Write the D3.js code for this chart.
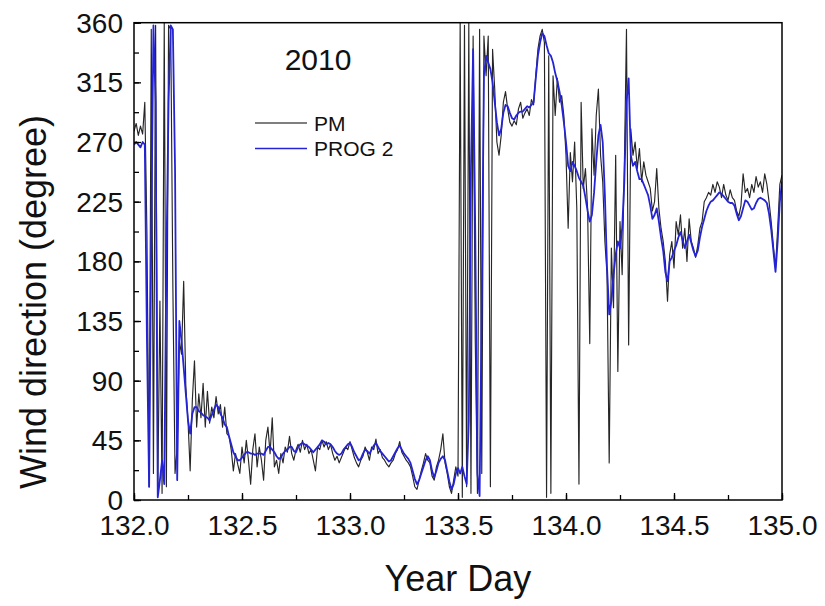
<!DOCTYPE html>
<html><head><meta charset="utf-8">
<script src="https://cdn.jsdelivr.net/npm/d3@7"></script>
<style>body{margin:0;background:#fff}svg{display:block}text{font-family:"Liberation Sans",Arial,sans-serif;fill:#111}</style>
</head><body><svg id="c" width="825" height="606"></svg>
<script>
// Time axis: year day from 132.00 to 135.00 in steps of 0.01
const tStart = 132.0, tStep = 0.01;
const xTicks = [132.0, 132.5, 133.0, 133.5, 134.0, 134.5, 135.0];
const yTicks = [0, 45, 90, 135, 180, 225, 270, 315, 360];
const titleText = "2010";
const seriesNames = ["PM", "PROG 2"];

const pm = [
278,284,275,282,276,300,200,10,355,20, 358,5,150,5,360,10,358,355,160,20,
40,120,110,165,85,60,22,75,105,55, 80,62,88,55,82,58,70,62,78,65,
72,55,70,50,48,38,22,35,27,20, 40,28,45,30,12,38,50,25,40,30,
15,45,55,35,62,25,30,20,35,28, 40,36,48,35,30,38,42,36,45,38,
42,35,38,30,22,40,38,45,40,44, 38,42,35,30,33,28,32,36,40,38,
44,38,32,28,25,30,33,40,36,30, 40,38,46,35,38,32,30,27,25,28,
30,35,38,44,36,33,30,28,25,18, 10,8,15,22,28,35,30,28,18,15,
25,30,38,50,28,20,10,5,15,25, 18,360,2,358,10,360,5,350,120,5,
355,20,350,320,350,10,340,310,270,260, 275,300,308,295,285,282,286,283,295,300,
288,292,295,290,302,298,320,340,350,355, 345,2,335,5,320,290,318,300,305,290,
260,205,262,240,270,220,12,300,235,250, 220,118,280,245,290,310,260,240,195,170,
28,190,145,260,97,210,170,250,355,117, 280,260,270,250,265,240,255,245,240,235,
218,225,250,220,205,195,180,150,185,195, 175,210,200,215,190,205,180,212,195,190,
183,192,205,210,225,228,232,230,238,232, 240,236,228,238,230,226,234,228,226,218,
214,222,246,232,235,228,238,232,244,236, 240,232,246,238,225,210,192,175,205,238,
245];

const prog2 = [
268,270,268,266,270,268,120,10,200,358, 300,2,15,30,12,180,300,358,355,250,
15,135,120,100,80,60,50,65,70,70, 67,66,64,63,62,60,64,68,72,70,
65,62,57,55,48,42,36,33,30,30, 32,34,36,36,35,35,34,35,35,35,
34,37,40,40,38,36,33,31,32,35, 37,38,40,40,37,36,40,42,43,42,
41,40,38,36,38,40,42,45,44,42, 43,42,40,37,35,34,35,38,40,42,
43,40,36,33,30,31,35,38,37,35, 38,41,43,40,37,35,33,31,29,30,
33,36,39,41,38,35,33,31,28,22, 16,12,15,20,25,30,33,30,22,17,
22,28,31,33,30,22,14,8,12,20, 24,20,25,18,12,60,250,340,200,20,
3,150,320,335,330,325,315,300,285,275, 280,292,298,297,292,288,287,290,292,293,
293,295,297,296,298,300,318,335,345,352, 350,343,337,335,330,322,316,308,298,285,
270,252,248,255,252,248,243,240,237,228, 218,210,215,232,255,275,283,270,230,175,
140,150,170,185,195,190,205,240,300,318, 260,252,255,248,242,242,238,234,230,222,
212,215,220,210,198,188,172,165,180,183, 188,192,198,202,196,190,195,200,194,188,
184,188,198,206,212,218,222,225,226,228, 230,232,231,229,227,225,224,224,222,216,
211,214,220,226,225,222,219,220,224,227, 228,227,226,224,216,204,188,172,195,225,
240];

const svg = d3.select("#c");
const m = {l:134, r:782, t:22.7, b:500};
const x = d3.scaleLinear().domain([132, 135]).range([m.l, m.r]);
const y = d3.scaleLinear().domain([0, 360]).range([m.b, m.t]);

svg.append("clipPath").attr("id","clip").append("rect")
  .attr("x", m.l).attr("y", m.t).attr("width", m.r-m.l).attr("height", m.b-m.t);

const line = d3.line().x((d,i)=>x(tStart + i*tStep)).y(d=>y(d));
const g = svg.append("g").attr("clip-path","url(#clip)");
g.append("path").datum(pm).attr("d", line).attr("fill","none")
  .attr("stroke","#262626").attr("stroke-width",1.15).attr("stroke-linejoin","round");
g.append("path").datum(prog2).attr("d", line).attr("fill","none")
  .attr("stroke","#2424d4").attr("stroke-width",1.8).attr("stroke-linejoin","round");

// frame
svg.append("rect").attr("x", m.l).attr("y", m.t).attr("width", m.r-m.l).attr("height", m.b-m.t)
  .attr("fill","none").attr("stroke","#000").attr("stroke-width",1.5);

// axes with inward ticks
const xMinor = d3.range(0, 13).map(i => 132 + i*0.25);
const yMinor = d3.range(0, 17).map(i => i*22.5);
const xAxis = svg.append("g").attr("transform",`translate(0,${m.b})`)
  .call(d3.axisBottom(x).tickValues(xMinor).tickSize(-5).tickFormat(""));
xAxis.select(".domain").remove();
const xAxisMaj = svg.append("g").attr("transform",`translate(0,${m.b})`)
  .call(d3.axisBottom(x).tickValues(xTicks).tickSize(-7).tickPadding(0).tickFormat(d3.format(".1f")));
xAxisMaj.select(".domain").remove();
xAxisMaj.selectAll("text").attr("font-size",28).attr("dy",null).attr("y",35)
  .attr("font-family","Liberation Sans, Arial, sans-serif").attr("fill","#111");
const yAxis = svg.append("g").attr("transform",`translate(${m.l},0)`)
  .call(d3.axisLeft(y).tickValues(yMinor).tickSize(-5).tickFormat(""));
yAxis.select(".domain").remove();
const yAxisMaj = svg.append("g").attr("transform",`translate(${m.l},0)`)
  .call(d3.axisLeft(y).tickValues(yTicks).tickSize(-7).tickPadding(0).tickFormat(d3.format("d")));
yAxisMaj.select(".domain").remove();
yAxisMaj.selectAll("text").attr("font-size",28).attr("x",-11).attr("dy","0.34em")
  .attr("font-family","Liberation Sans, Arial, sans-serif").attr("fill","#111");
svg.selectAll(".tick line").attr("stroke","#000").attr("stroke-width",1.3);

// axis titles
svg.append("text").attr("x", 458).attr("y", 591).attr("text-anchor","middle")
  .attr("font-size",36).text("Year Day");
svg.append("text").attr("transform","translate(46,302) rotate(-90)").attr("text-anchor","middle")
  .attr("font-size",36).text("Wind direction (degree)");

// title
svg.append("text").attr("x", 318).attr("y", 70).attr("text-anchor","middle")
  .attr("font-size",30).text(titleText);

// legend
const legColors = ["#555","#2424d4"];
seriesNames.forEach((n,i)=>{
  const ly = 123 + i*25.5;
  svg.append("line").attr("x1",255).attr("x2",307).attr("y1",ly).attr("y2",ly)
    .attr("stroke",legColors[i]).attr("stroke-width",1.5);
  svg.append("text").attr("x",314).attr("y",ly+7.5).attr("font-size",21).text(n);
});
</script></body></html>
